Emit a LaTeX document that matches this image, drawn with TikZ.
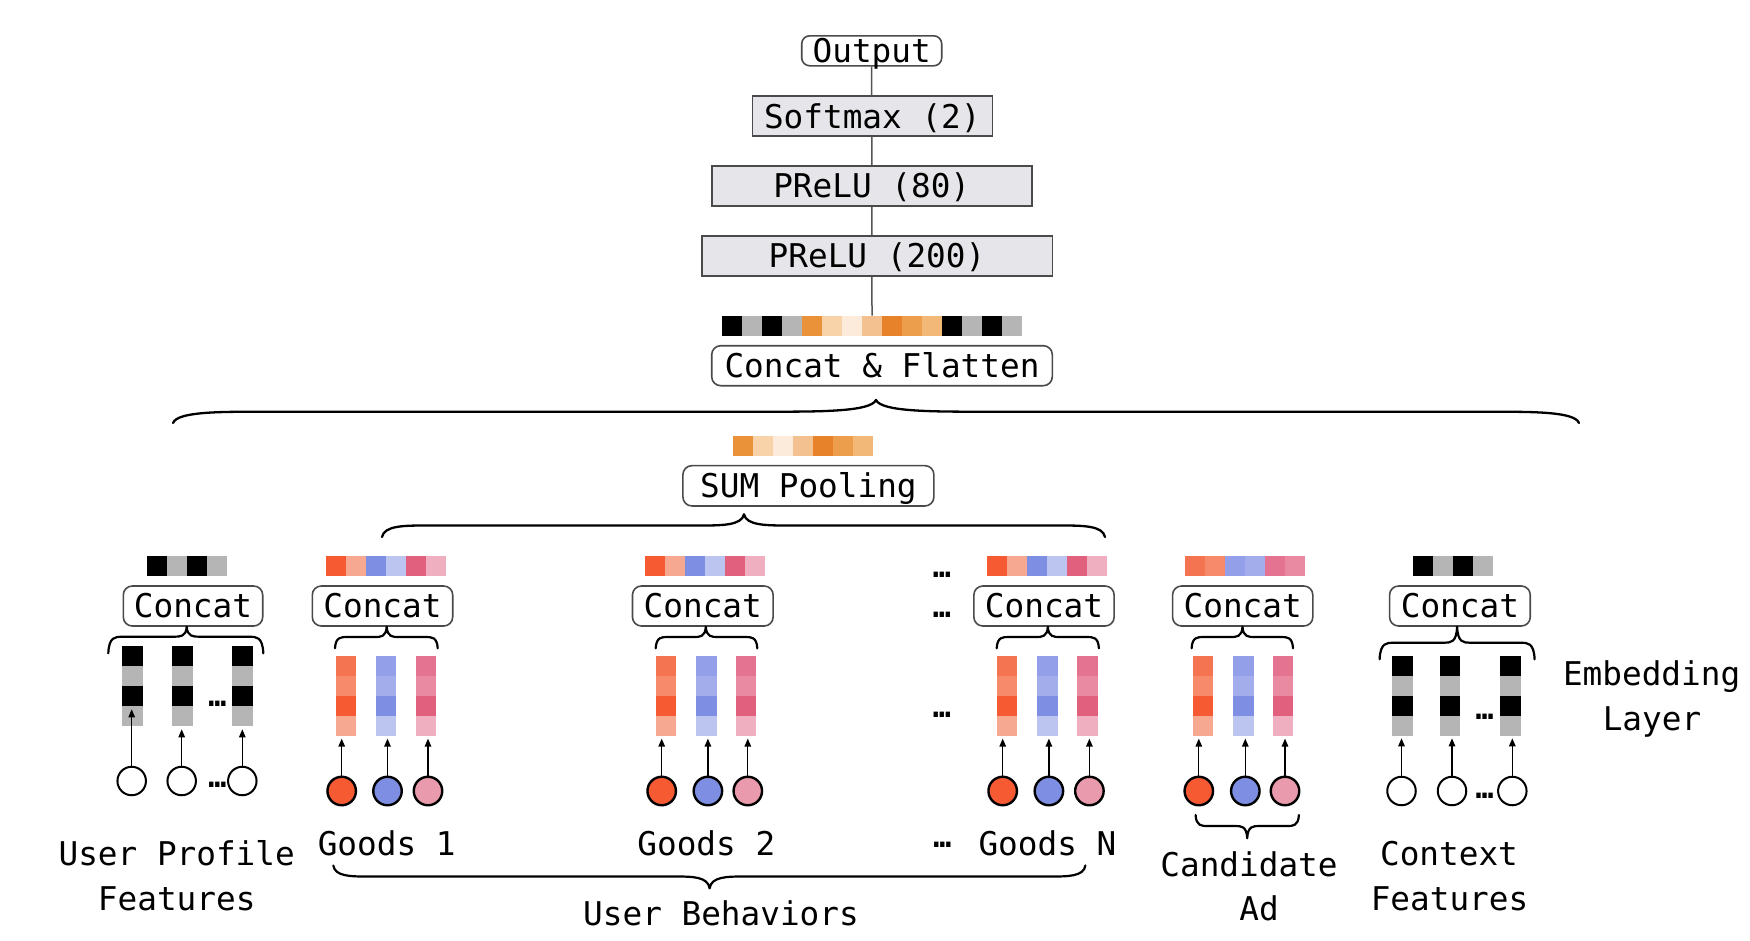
\documentclass[tikz,border=0pt]{standalone}
\usepackage{fontspec}
\newfontfamily\monof{DejaVu Sans Mono}
\usetikzlibrary{arrows.meta,backgrounds}
\definecolor{bk}{HTML}{000000}
\definecolor{gy}{HTML}{B5B5B5}
\definecolor{oa}{HTML}{E9923A}
\definecolor{ob}{HTML}{F8D3A9}
\definecolor{oc}{HTML}{FCEBDA}
\definecolor{od}{HTML}{F3C18F}
\definecolor{oe}{HTML}{E8822A}
\definecolor{of}{HTML}{ED9E4C}
\definecolor{og}{HTML}{F2B877}
\definecolor{ra}{HTML}{F47350}
\definecolor{rb}{HTML}{F68A6A}
\definecolor{rc}{HTML}{F55A32}
\definecolor{rd}{HTML}{F7A890}
\definecolor{ba}{HTML}{939FE8}
\definecolor{bb}{HTML}{A3ADEC}
\definecolor{bc}{HTML}{7D8EE3}
\definecolor{bd}{HTML}{BCC4F0}
\definecolor{pa}{HTML}{E37390}
\definecolor{pb}{HTML}{E98AA2}
\definecolor{pc}{HTML}{E0607E}
\definecolor{pd}{HTML}{F0AFC0}
\definecolor{pe}{HTML}{E99AAC}
\definecolor{boxline}{HTML}{4A4A4A}
\definecolor{boxfill}{HTML}{E6E6EA}
\definecolor{conn}{HTML}{555555}
% vertical column of 4 cells: name, x, y(top), colours
\newcommand{\vcol}[4]{%
  \node[colnode] (#1) at ({#2+10.15},{#3+40}) {};
  \foreach \cc [count=\ii from 0] in {#4}{\fill[fill=\cc] (#2,{#3+\ii*20}) rectangle ++(20.3,20.2);}
}
% horizontal bar: name, x(left), y(top), n, colours
\newcommand{\hrow}[5]{%
  \node[colnode, minimum width={#4*20}, minimum height=20pt] (#1) at ({#2+#4*10},{#3+10}) {};
  \foreach \cc [count=\ii from 0] in {#5}{\fill[fill=\cc] ({#2+\ii*20},#3) rectangle ++(20.2,20);}
}
% curly brace: [lw] x0 x1 xtip yend yflat ytip curlw tipw
\newcommand{\cbrace}[9][2.2pt]{%
  \draw[line width=#1, line join=round, line cap=round]
    (#2,#5) .. controls ({#2+0.05*#8},#6) and ({#2+0.5*#8},#6) .. ({#2+#8},#6)
    -- ({#4-#9},#6) .. controls ({#4-0.5*#9},#6) and ({#4-0.05*#9},#6) .. (#4,#7)
    .. controls ({#4+0.05*#9},#6) and ({#4+0.5*#9},#6) .. ({#4+#9},#6)
    -- ({#3-#8},#6) .. controls ({#3-0.5*#8},#6) and ({#3-0.05*#8},#6) .. (#3,#5);
}
\begin{document}
\begin{tikzpicture}[x=1pt,y=-1pt,
  lbl/.style={font=\monof\fontsize{32.7}{40}\selectfont, inner sep=0pt},
  rbox/.style={lbl, draw=boxline, line width=1.6pt, rounded corners=9pt, fill=white,
    text height=23.8pt, text depth=0pt, minimum height=40pt},
  gbox/.style={lbl, draw=boxline, line width=1.6pt, fill=boxfill,
    text height=23.8pt, text depth=0pt, minimum height=40.5pt},
  colnode/.style={inner sep=0pt, outer sep=0pt, minimum width=20.3pt, minimum height=80pt},
  dots/.style={font=\monof\bfseries\fontsize{30}{36}\selectfont, inner sep=0pt, anchor=base},
  txt/.style={lbl, anchor=base},
  fc/.style={circle, draw=black, line width=2.4pt, minimum size=28.5pt, inner sep=0pt},
  hc/.style={circle, draw=black, fill=white, line width=2pt, minimum size=28.5pt, inner sep=0pt},
  arr/.style={line width=1.3pt, -{Triangle[length=8pt,width=6.5pt]}}
]
\useasboundingbox (0,0) rectangle (1750,940);

% ---------- top stack ----------
\node[rbox, minimum width=140pt, minimum height=30pt, rounded corners=8pt] (out) at (871.7,50.8) {Output};
\node[gbox, minimum width=240pt, minimum height=40pt] (soft) at (872.3,116.2) {Softmax (2)};
\node[gbox, minimum width=320pt] (p80) at (871.7,186) {PReLU (80)};
\node[gbox, minimum width=350.6pt] (p200) at (877,256) {PReLU (200)};
\hrow{fbar}{722}{315.7}{15}{bk,gy,bk,gy,oa,ob,oc,od,oe,of,og,bk,gy,bk,gy}
\node[rbox, minimum width=340.6pt] (cf) at (882,365.7) {Concat \& Flatten};
\begin{scope}[on background layer]
  \draw[conn, line width=1.5pt] (out.south) -- (fbar.north);
\end{scope}

\cbrace[2.3pt]{173}{1579}{876}{423}{411.7}{400}{90}{110}

\hrow{sbar}{733}{436}{7}{oa,ob,oc,od,oe,of,og}
\node[rbox, minimum width=251pt, minimum height=40.3pt] (sum) at (808.4,485.8) {SUM Pooling};
\cbrace[2.3pt]{382}{1105}{744}{537}{525.5}{514.3}{45}{45}

% ---------- user profile ----------
\hrow{upbar}{146.7}{555.7}{4}{bk,gy,bk,gy}
\node[rbox, minimum width=139.4pt] (upcat) at (193,606) {Concat};
\cbrace{108.3}{263.3}{186.7}{653.3}{636.7}{626.7}{14}{13}
\vcol{upa}{122.3}{646}{bk,gy,bk,gy}
\vcol{upb}{172.3}{646}{bk,gy,bk,gy}
\vcol{upc}{232.3}{646}{bk,gy,bk,gy}
\node[dots] (updA) at (217.5,706.8) {…};
\node[hc] (upx) at (131.7,781) {};
\node[hc] (upy) at (181.7,781) {};
\node[dots] (updB) at (217.5,787.5) {…};
\node[hc] (upz) at (242.3,781) {};
\draw[arr, shorten >=-16.7pt] (upx) -- (upx |- upa.south);
\draw[arr, shorten >=3.3pt] (upy) -- (upy |- upb.south);
\draw[arr, shorten >=3.3pt] (upz) -- (upz |- upc.south);
\node[txt] (t1) at (176.7,865) {User Profile};
\node[txt] (t2) at (176.7,910.7) {Features};

% ---------- goods 1 ----------
\hrow{g1bar}{325.7}{555.7}{6}{rc,rd,bc,bd,pc,pd}
\node[rbox, minimum width=140.4pt] (g1cat) at (382.5,606) {Concat};
\cbrace{335}{437.7}{386.7}{648.3}{637}{626.7}{12}{12}
\vcol{g1r}{335.7}{656}{ra,rb,rc,rd}
\vcol{g1b}{376}{656}{ba,bb,bc,bd}
\vcol{g1p}{415.7}{656}{pa,pb,pc,pd}
\node[fc, fill=rc] (g1x) at (341.7,791) {};
\node[fc, fill=bc] (g1y) at (387.5,791) {};
\node[fc, fill=pe] (g1z) at (428,791) {};
\draw[arr, shorten >=2.6pt] (g1x) -- (g1x |- g1r.south);
\draw[arr, shorten >=2.6pt] (g1y) -- (g1y |- g1b.south);
\draw[arr, shorten >=2.6pt] (g1z) -- (g1z |- g1p.south);
\node[txt] (t3) at (386.7,855) {Goods 1};

% ---------- goods 2 ----------
\hrow{g2bar}{645.1}{555.7}{6}{rc,rd,bc,bd,pc,pd}
\node[rbox, minimum width=140.7pt] (g2cat) at (702.8,606) {Concat};
\cbrace{655.7}{757.3}{705.8}{648.3}{637}{626.7}{12}{12}
\vcol{g2r}{655.7}{656}{ra,rb,rc,rd}
\vcol{g2b}{696.3}{656}{ba,bb,bc,bd}
\vcol{g2p}{736.1}{656}{pa,pb,pc,pd}
\node[fc, fill=rc] (g2x) at (661.7,791) {};
\node[fc, fill=bc] (g2y) at (707.9,791) {};
\node[fc, fill=pe] (g2z) at (747.8,791) {};
\draw[arr, shorten >=2.6pt] (g2x) -- (g2x |- g2r.south);
\draw[arr, shorten >=2.6pt] (g2y) -- (g2y |- g2b.south);
\draw[arr, shorten >=2.6pt] (g2z) -- (g2z |- g2p.south);
\node[txt] (t4) at (706.3,855) {Goods 2};

% ---------- dots between ----------
\node[dots] (gdA) at (942,577.5) {…};
\node[dots] (gdB) at (942,617.5) {…};
\node[dots] (gdC) at (942,717.5) {…};
\node[dots] (gdD) at (942.3,847.5) {…};

% ---------- goods N ----------
\hrow{gnbar}{987.2}{555.7}{6}{rc,rd,bc,bd,pc,pd}
\node[rbox, minimum width=140.3pt] (gncat) at (1044,606) {Concat};
\cbrace{996.7}{1098.9}{1047.8}{648.3}{637}{626.7}{12}{12}
\vcol{gnr}{997}{656}{ra,rb,rc,rd}
\vcol{gnb}{1037.2}{656}{ba,bb,bc,bd}
\vcol{gnp}{1077.4}{656}{pa,pb,pc,pd}
\node[fc, fill=rc] (gnx) at (1002.7,791) {};
\node[fc, fill=bc] (gny) at (1048.9,791) {};
\node[fc, fill=pe] (gnz) at (1089.4,791) {};
\draw[arr, shorten >=2.6pt] (gnx) -- (gnx |- gnr.south);
\draw[arr, shorten >=2.6pt] (gny) -- (gny |- gnb.south);
\draw[arr, shorten >=2.6pt] (gnz) -- (gnz |- gnp.south);
\node[txt] (t5) at (1047.4,855) {Goods N};

\cbrace{333.3}{1085.4}{709.6}{865.5}{876.5}{888.3}{35}{35}
\node[txt] (t6) at (721,925) {User Behaviors};

% ---------- candidate ad ----------
\hrow{cabar}{1184.8}{555.7}{6}{ra,rb,ba,bb,pa,pb}
\node[rbox, minimum width=140.3pt] (cacat) at (1242.7,606) {Concat};
\cbrace{1191.6}{1293}{1242.5}{648.3}{637}{626.7}{12}{12}
\vcol{car}{1192.8}{656}{ra,rb,rc,rd}
\vcol{cab}{1233.3}{656}{ba,bb,bc,bd}
\vcol{cap}{1273.1}{656}{pa,pb,pc,pd}
\node[fc, fill=rc] (cax) at (1198.8,791) {};
\node[fc, fill=bc] (cay) at (1245.3,791) {};
\node[fc, fill=pe] (caz) at (1285,791) {};
\draw[arr, shorten >=2.6pt] (cax) -- (cax |- car.south);
\draw[arr, shorten >=2.6pt] (cay) -- (cay |- cab.south);
\draw[arr, shorten >=2.6pt] (caz) -- (caz |- cap.south);
\cbrace{1195.6}{1298.9}{1247.2}{815}{826}{838.3}{12}{12}
\node[txt] (t7) at (1249,876.7) {Candidate};
\node[txt] (t8) at (1259,920) {Ad};

% ---------- context ----------
\hrow{cfbar}{1413}{555.7}{4}{bk,gy,bk,gy}
\node[rbox, minimum width=140.7pt] (cfcat) at (1459.9,606) {Concat};
\cbrace{1379.6}{1534.6}{1457.1}{659.3}{642.7}{626.7}{14}{13}
\vcol{cfa}{1392.3}{656}{bk,gy,bk,gy}
\vcol{cfb}{1440}{656}{bk,gy,bk,gy}
\vcol{cfc}{1500.4}{656}{bk,gy,bk,gy}
\node[dots] (cfdA) at (1484.7,719) {…};
\node[hc] (cfx) at (1401.5,791) {};
\node[hc] (cfy) at (1452,791) {};
\node[dots] (cfdB) at (1484.7,798.5) {…};
\node[hc] (cfz) at (1512.3,791) {};
\draw[arr, shorten >=2.3pt] (cfx) -- (cfx |- cfa.south);
\draw[arr, shorten >=2.3pt] (cfy) -- (cfy |- cfb.south);
\draw[arr, shorten >=2.3pt] (cfz) -- (cfz |- cfc.south);
\node[txt] (t9) at (1449,865) {Context};
\node[txt] (t10) at (1449.5,910) {Features};

\node[txt] (t11) at (1651.6,685) {Embedding};
\node[txt] (t12) at (1652,730) {Layer};
\end{tikzpicture}
\end{document}
